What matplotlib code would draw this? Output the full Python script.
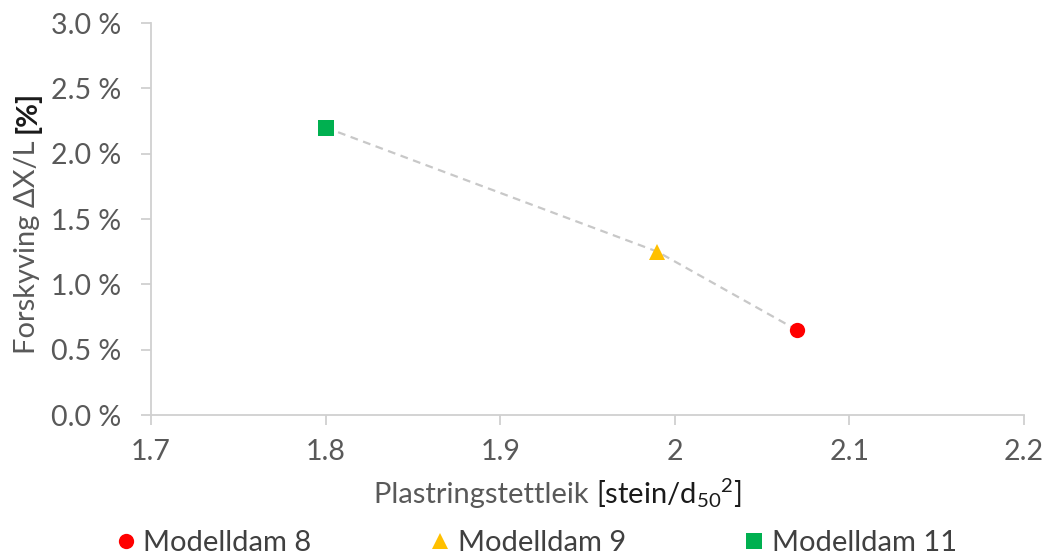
import matplotlib
matplotlib.use("Agg")
import matplotlib.pyplot as plt
from matplotlib.ticker import FuncFormatter, MultipleLocator
from matplotlib.offsetbox import TextArea, HPacker, AnchoredOffsetbox

plt.rcParams['font.family'] = ['Lato', 'DejaVu Sans']
plt.rcParams['mathtext.fontset'] = 'custom'
plt.rcParams['mathtext.rm'] = 'Lato'
plt.rcParams['mathtext.it'] = 'Lato'

# Data
series_names = ["Modelldam 8", "Modelldam 9", "Modelldam 11"]
x_values = [2.07, 1.99, 1.80]          # stein/d50^2
y_values = [0.65, 1.25, 2.20]          # percent
colors = ["#ff0000", "#ffc000", "#00b050"]
markers = ["o", "^", "s"]

x_ticks = [1.7, 1.8, 1.9, 2.0, 2.1, 2.2]
x_tick_labels = ["1.7", "1.8", "1.9", "2", "2.1", "2.2"]

fig = plt.figure(figsize=(10.48, 5.58), dpi=100)
ax = fig.add_axes([151/1048, 1-415/558, (1024-151)/1048, (415-23)/558])

tick_color = "#595959"
axis_color = "#d0d0d0"

# connecting dashed line (sorted by x)
order = sorted(range(len(x_values)), key=lambda i: x_values[i])
ax.plot([x_values[i] for i in order], [y_values[i] for i in order],
        linestyle=(0, (3.5, 2.5)), color="#c8c8c8", linewidth=1.6, zorder=2)

handles = []
for xv, yv, c, m, n in zip(x_values, y_values, colors, markers, series_names):
    ms = 11 if m != "^" else 12
    h, = ax.plot([xv], [yv], linestyle='none', marker=m, color=c,
                 markersize=ms, markeredgewidth=0, label=n, zorder=3)
    handles.append(h)

ax.set_xlim(1.7, 2.2)
ax.set_ylim(0, 3.0)
ax.set_xticks(x_ticks)
ax.set_xticklabels(x_tick_labels)
ax.yaxis.set_major_locator(MultipleLocator(0.5))
ax.yaxis.set_major_formatter(FuncFormatter(lambda v, p: f"{v:.1f} %"))

for s in ["top", "right"]:
    ax.spines[s].set_visible(False)
for s in ["left", "bottom"]:
    ax.spines[s].set_color(axis_color)
    ax.spines[s].set_linewidth(1.3)
ax.tick_params(axis='both', direction='out', length=7.5, width=1.3,
               color=axis_color, labelcolor=tick_color, labelsize=20.5)
ax.tick_params(axis='y', pad=14)
ax.tick_params(axis='x', pad=10)

# X label: light part + dark part
ta1 = TextArea("Plastringstettleik ", textprops=dict(color="#595959", fontsize=21))
ta2 = TextArea(r"[stein/d$_{50}$$^{2}$]", textprops=dict(color="#1a1a1a", fontsize=21))
box = HPacker(children=[ta1, ta2], align="baseline", pad=0, sep=0)
anch = AnchoredOffsetbox(loc='center', child=box, frameon=False,
                         bbox_to_anchor=(558/1048, 1-493/558),
                         bbox_transform=fig.transFigure, borderpad=0, pad=0)
fig.add_artist(anch)

# Y label: two rotated texts
t1 = fig.text(27/1048, 0, "Forskyving ΔX/L ", rotation=90, color="#595959",
              fontsize=21, ha='center', va='bottom')
t2 = fig.text(27/1048, 0, "[%]", rotation=90, color="#1a1a1a",
              fontsize=21, fontweight='bold', ha='center', va='bottom')
fig.canvas.draw()
r = fig.canvas.get_renderer()
h1 = t1.get_window_extent(r).height
h2 = t2.get_window_extent(r).height
total = h1 + h2
center = 558 - 222
start = center - total / 2
t1.set_position((27/1048, start/558))
t2.set_position((27/1048, (start + h1)/558))

leg = fig.legend(handles=handles, labels=series_names, loc='center',
                 bbox_to_anchor=(537/1048, 1-543/558), ncol=3, frameon=False,
                 fontsize=21, handlelength=0.6, handletextpad=0.3,
                 columnspacing=4.1, labelcolor="#404040")

fig.savefig("out.png", dpi=100)
